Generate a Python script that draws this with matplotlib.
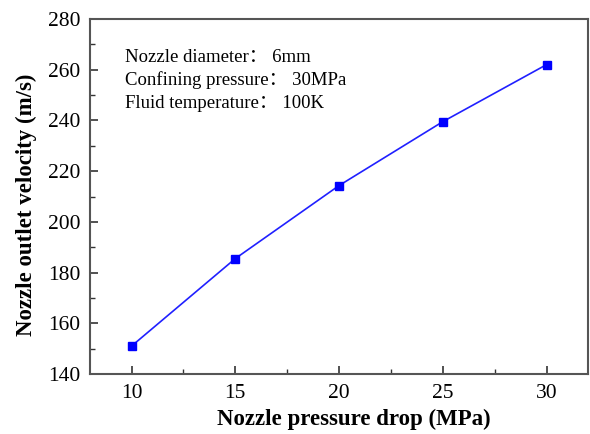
import matplotlib
matplotlib.use("Agg")
import matplotlib.pyplot as plt
from matplotlib.ticker import MultipleLocator

# nozzle pressure drop (MPa) vs outlet velocity (m/s)
pressure_drop = [10, 15, 20, 25, 30]
outlet_velocity = [151.0, 185.5, 214.3, 239.5, 262.0]

notes = [
    "Nozzle diameter\uff1a 6mm",
    "Confining pressure\uff1a 30MPa",
    "Fluid temperature\uff1a 100K",
]

plt.rcParams["font.family"] = ["Liberation Serif", "Noto Sans CJK SC"]

fig = plt.figure(figsize=(5.9, 4.34), dpi=100)
ax = fig.add_axes([90 / 590, 1 - 374 / 434, 498 / 590, 355 / 434])

ax.plot(pressure_drop, outlet_velocity, color="#2020ff", lw=1.2,
        marker="s", ms=6, mfc="#0000ff", mec="#0000ff")

ax.set_xlim(8, 32)
ax.set_ylim(140, 280)
ax.xaxis.set_major_locator(MultipleLocator(5))
ax.xaxis.set_minor_locator(MultipleLocator(2.5))
ax.yaxis.set_major_locator(MultipleLocator(20))
ax.yaxis.set_minor_locator(MultipleLocator(10))
ax.tick_params(which="both", direction="in", top=False, right=False,
               labelsize=15.5, color="#333333")
ax.tick_params(which="major", length=6, width=1.2, pad=7)
ax.tick_params(which="minor", length=3.5, width=1.0)
for s in ax.spines.values():
    s.set_color("#555555")
    s.set_linewidth(1.5)

ax.set_xlabel("Nozzle pressure drop (MPa)", fontsize=16.5, fontweight="bold")
ax.set_ylabel("Nozzle outlet velocity (m/s)", fontsize=16.5, fontweight="bold")
# labels sit a little off-centre in the original
ax.xaxis.set_label_coords(0.53, -0.097)
ax.yaxis.set_label_coords(-0.107, 0.476)

for i, t in enumerate(notes):
    ax.text(125 / 590, 1 - (58 + 22.5 * i) / 434, t, transform=fig.transFigure,
            fontsize=13.5, va="center", ha="left")

fig.savefig("out.png", dpi=100)
